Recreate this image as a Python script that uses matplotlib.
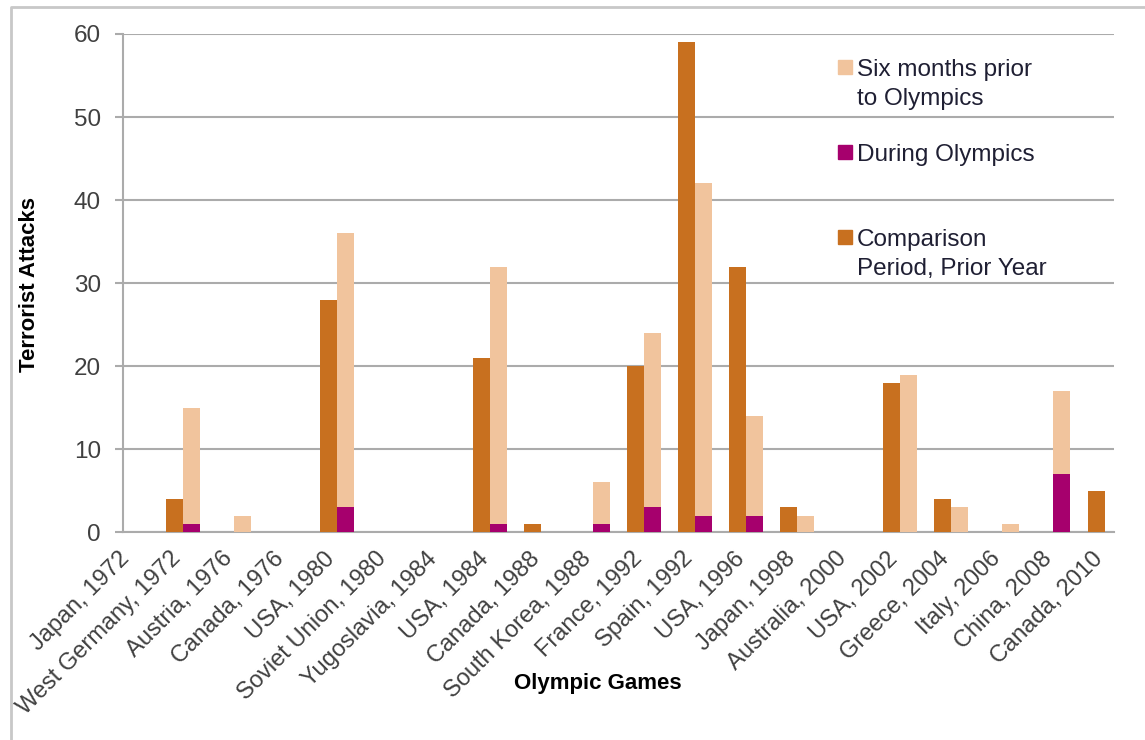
import numpy as np
import matplotlib
matplotlib.use('Agg')
import matplotlib.pyplot as plt
import matplotlib.transforms as mtransforms
from matplotlib.patches import Rectangle
from matplotlib.lines import Line2D

# Data
games = ['Japan, 1972', 'West Germany, 1972', 'Austria, 1976', 'Canada, 1976',
         'USA, 1980', 'Soviet Union, 1980', 'Yugoslavia, 1984', 'USA, 1984',
         'Canada, 1988', 'South Korea, 1988', 'France, 1992', 'Spain, 1992',
         'USA, 1996', 'Japan, 1998', 'Australia, 2000', 'USA, 2002',
         'Greece, 2004', 'Italy, 2006', 'China, 2008', 'Canada, 2010']
comparison = [0, 4, 0, 0, 28, 0, 0, 21, 1, 0, 20, 59, 32, 3, 0, 18, 4, 0, 0, 5]
six_months = [0, 15, 2, 0, 36, 0, 0, 32, 0, 6, 24, 42, 14, 2, 0, 19, 3, 1, 17, 0]
during = [0, 1, 0, 0, 3, 0, 0, 1, 0, 1, 3, 2, 2, 0, 0, 0, 0, 0, 7, 0]

c_comp = '#C8701F'
c_six = '#F1C49D'
c_during = '#A6006D'
grid_col = '#ABABAB'
text_col = '#404040'

W, H = 1145, 740
fig = plt.figure(figsize=(W / 100, H / 100), dpi=100)


def fx(x):
    return x / W


def fy(y):
    return 1 - y / H


ax = fig.add_axes([fx(123), fy(532.3), (1114 - 123) / W, (532.3 - 34) / H])

x = np.arange(len(games))
w = 0.332
ax.bar(x, comparison, width=w, color=c_comp, zorder=3)
ax.bar(x + w, six_months, width=w, color=c_six, zorder=3)
ax.bar(x + w, during, width=w, color=c_during, zorder=4)

ax.set_xlim(-0.006, 19.349)
ax.set_ylim(0, 60)
ax.set_yticks(range(0, 61, 10))
ax.yaxis.grid(True, color=grid_col, linewidth=1.5, zorder=0)
ax.tick_params(axis='y', length=6, width=1.5, color=grid_col, labelsize=17.5,
               labelcolor=text_col, pad=10)
for lab in ax.get_yticklabels():
    lab.set_fontfamily('Liberation Sans')

ax.set_xticks(x + 0.05)
ax.set_xticklabels(games, rotation=45, ha='right', rotation_mode='anchor',
                   fontsize=17, color=text_col, family='Liberation Sans')
ax.tick_params(axis='x', length=0, pad=11)
# nudge the rotated labels a little to the left, as in the original
shift = mtransforms.ScaledTranslation(-7 / 100, 0, fig.dpi_scale_trans)
for lab in ax.get_xticklabels():
    lab.set_transform(lab.get_transform() + shift)

for s in ['top', 'right']:
    ax.spines[s].set_visible(False)
ax.spines['left'].set_color(grid_col)
ax.spines['left'].set_linewidth(1.5)
ax.spines['bottom'].set_color(grid_col)
ax.spines['bottom'].set_linewidth(1.5)

# Axis titles
fig.text(fx(30), fy(285), 'Terrorist Attacks', rotation=90, ha='center', va='center',
         fontsize=16, fontweight='bold', color='black', family='Liberation Sans')
fig.text(fx(598), fy(684), 'Olympic Games', ha='center', va='center',
         fontsize=16, fontweight='bold', color='black', family='Liberation Sans')

# Legend, drawn by hand to keep the marker next to the first line
legend_items = [(c_six, 'Six months prior\nto Olympics', 60),
                (c_during, 'During Olympics', 145),
                (c_comp, 'Comparison\nPeriod, Prior Year', 230)]
for col, label, ytop in legend_items:
    fig.add_artist(Rectangle((fx(838), fy(ytop + 14)), 14 / W, 14 / H,
                             transform=fig.transFigure, color=col))
    fig.text(fx(857), fy(ytop - 1), label, ha='left', va='top', fontsize=17.5,
             color='#1F1F33', family='Liberation Sans', linespacing=1.4)

# Outer chart border
fig.add_artist(Line2D([fx(11), fx(11), 1.0], [0.0, fy(7), fy(7)],
                      transform=fig.transFigure, color='#C8C8C8', linewidth=2))

fig.savefig('out.png', dpi=100)
